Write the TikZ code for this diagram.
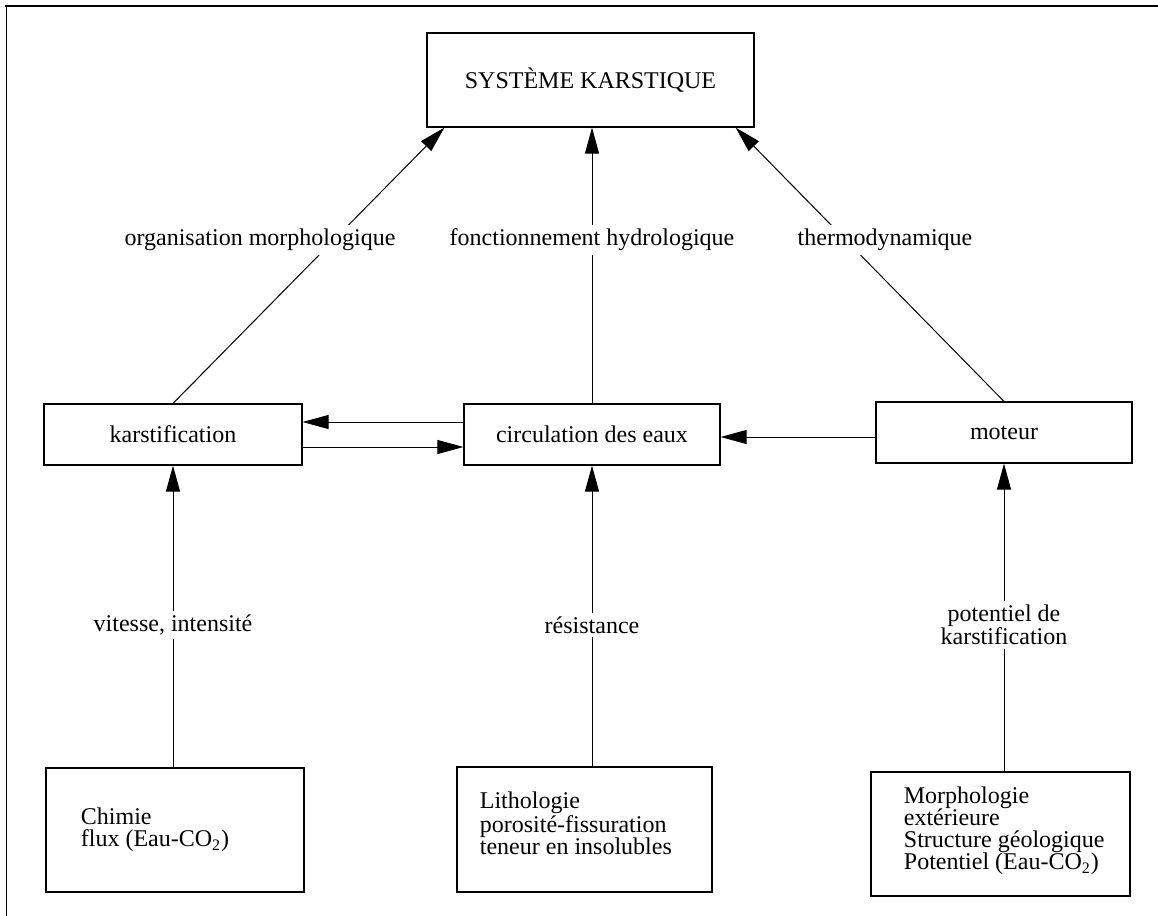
\documentclass[tikz,border=0pt]{standalone}
\usepackage{fontspec}
\setmainfont{Liberation Serif}
\usetikzlibrary{arrows.meta}
\begin{document}
\begin{tikzpicture}[x=0.5pt,y=-0.5pt,line width=0.5pt,
        >={Triangle[length=13pt,width=7pt]},
        every node/.style={font=\fontsize{12pt}{11.5pt}\selectfont},
        box/.style={draw,line width=0.6pt},
        boxtxt/.style={anchor=west,align=left,inner sep=0pt,font=\fontsize{12pt}{11pt}\selectfont},
        lab/.style={fill=white,inner sep=2pt}]
            \useasboundingbox (0,0) rectangle (1158,916);
            % Frame
            \draw [line width=1.2pt] (5,6)--(1158,6);
            \draw (6,6)--(6,916);

            % Boxes
            \node [box,minimum width=163.5pt,minimum height=47pt] (sys) at (590.5,80) {SYSTÈME KARSTIQUE};
            \node [box,minimum width=129pt,minimum height=30.5pt] (karst) at (173,434.5) {karstification};
            \node [box,minimum width=128pt,minimum height=30.5pt] (circ) at (592,434.5) {circulation des eaux};
            \node [box,minimum width=128pt,minimum height=30.5pt] (mot) at (1004,432.5) {moteur};
            \node [box,minimum width=129pt,minimum height=62pt] (chim) at (175,830) {};
            \node [box,minimum width=127.5pt,minimum height=62.5pt] (litho) at (584.5,829.5) {};
            \node [box,minimum width=129.5pt,minimum height=62pt] (morph) at (1000.5,834) {};

            % Box texts
            \node [boxtxt] (chimtxt) at ([xshift=17.5pt]chim.west) {Chimie\\flux (Eau-CO\textsubscript{2})};
            \node [boxtxt] (lithotxt) at ([xshift=11.5pt,yshift=3pt]litho.west) {Lithologie\\porosité-fissuration\\teneur en insolubles};
            \node [boxtxt] (morphtxt) at ([xshift=16.5pt,yshift=1.5pt]morph.west) {Morphologie\\extérieure\\Structure géologique\\Potentiel (Eau-CO\textsubscript{2})};

            % Arrows
            \draw [->] (karst.north) -- ([xshift=9pt]sys.south west);
            \draw [->] (circ.north) -- (circ.north |- sys.south);
            \draw [->] (mot.north) -- ([xshift=-9.5pt]sys.south east);
            \draw [->] ([yshift=6.25pt]circ.west) -- ([yshift=6.25pt]karst.east);
            \draw [->] ([yshift=-6.25pt]karst.east) -- ([yshift=-6.25pt]circ.west);
            \draw [->] ([yshift=-2.25pt]mot.west) -- ([yshift=-1.25pt]circ.east);
            \draw [->] (karst.south |- chim.north) -- (karst.south);
            \draw [->] (circ.south |- litho.north) -- (circ.south);
            \draw [->] (mot.south |- morph.north) -- (mot.south);

            % Labels
            \node [lab] (orga) at (260,240) {organisation morphologique};
            \node [lab] (fonc) at (592,240) {fonctionnement hydrologique};
            \node [lab] (thermo) at (885,240) {thermodynamique};
            \node [lab] (vit) at (173,625) {vitesse, intensité};
            \node [lab] (resi) at (592,625) {résistance};
            \node [lab,align=center] (pot) at (1004,625) {potentiel de\\karstification};
        \end{tikzpicture}
\end{document}
